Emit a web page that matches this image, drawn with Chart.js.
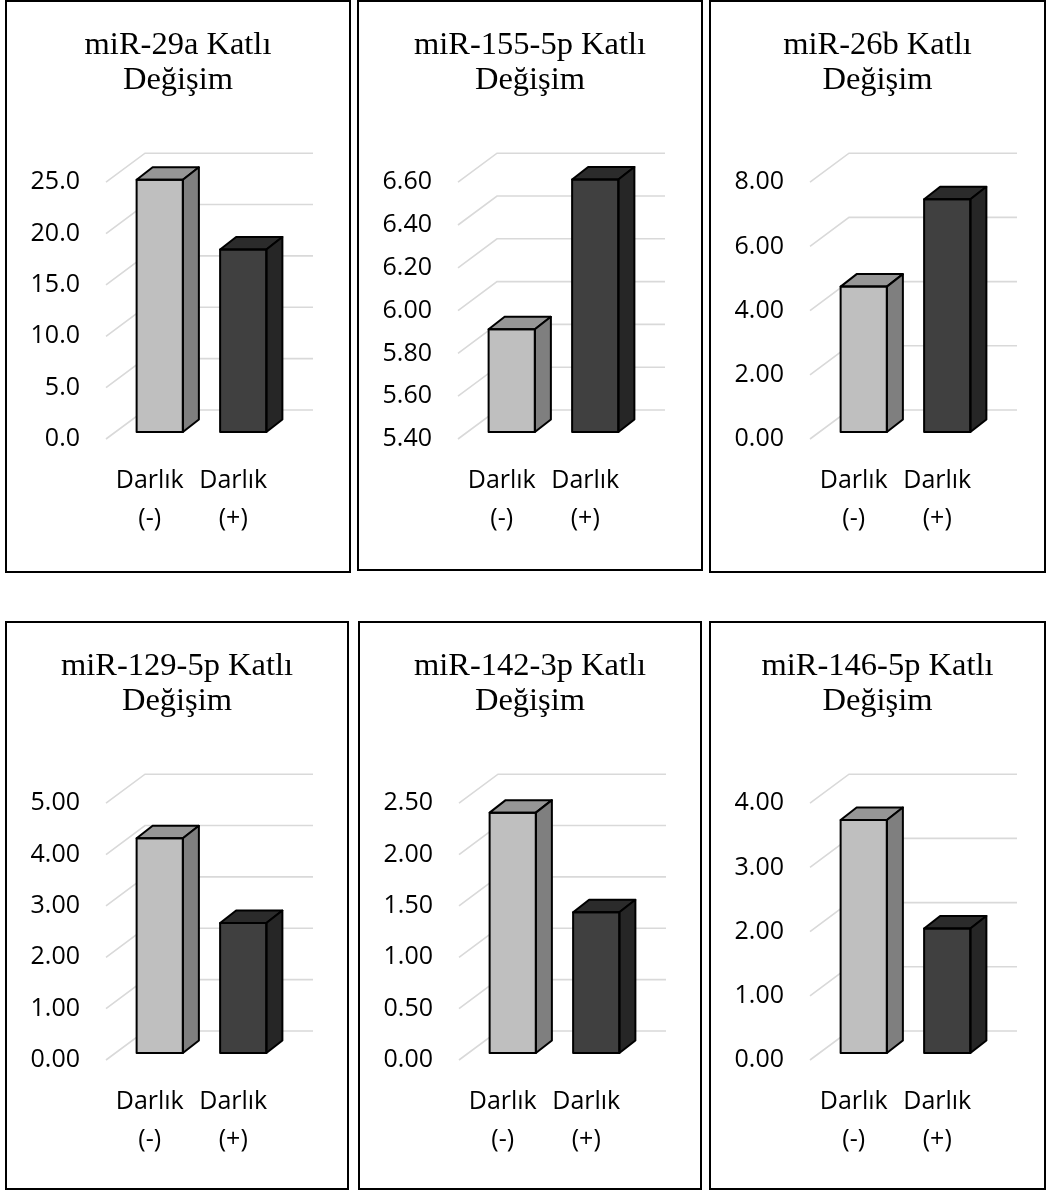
<!DOCTYPE html>
<html>
<head>
<meta charset="utf-8">
<script src="https://cdn.jsdelivr.net/npm/chart.js@4.4.1/dist/chart.umd.min.js"></script>
<style>
  body { margin: 0; background: #fff; }
  .panel { position: absolute; border: 2px solid #000; box-sizing: border-box; background: #fff; }
  .panel > div { position: relative; width: 100%; height: 100%; }
</style>
</head>
<body>
<div id="wrap"></div>
<script>
// data
const categories = [['Darlık', '(-)'], ['Darlık', '(+)']];
const mirNames = ['miR-29a', 'miR-155-5p', 'miR-26b', 'miR-129-5p', 'miR-142-3p', 'miR-146-5p'];
const mir29a = [24.55, 17.77];
const mir155 = [5.88, 6.58];
const mir26b = [4.53, 7.25];
const mir129 = [4.18, 2.53];
const mir142 = [2.34, 1.37];
const mir146 = [3.63, 1.94];
const yMins = [0, 5.4, 0, 0, 0, 0];
const yMaxs = [25, 6.6, 8, 5, 2.5, 4];
const ySteps = [5, 0.2, 2, 1, 0.5, 1];
const yDecimals = [1, 2, 2, 2, 2, 2];
const allValues = [mir29a, mir155, mir26b, mir129, mir142, mir146];

// panel boxes on the page
const boxes = [
  { l: 5, t: 0, w: 346, h: 573 },
  { l: 357, t: 0, w: 346, h: 571 },
  { l: 709, t: 0, w: 337, h: 573 },
  { l: 5, t: 621, w: 344, h: 569 },
  { l: 358, t: 621, w: 344, h: 569 },
  { l: 709, t: 621, w: 337, h: 569 }
];

const frontColors = ['#bfbfbf', '#404040'];
const topColors = ['#969696', '#2b2b2b'];
const sideColors = ['#7f7f7f', '#262626'];

// chart area inside each canvas
const AREA = { left: 111, right: 278, top: 173, bottom: 430 };

// oblique gridlines (front -> back wall)
const wallGrid = {
  id: 'wallGrid',
  beforeDatasetsDraw(chart) {
    const ctx = chart.ctx;
    const y = chart.scales.y;
    const { left, right } = chart.chartArea;
    ctx.save();
    ctx.strokeStyle = '#d9d9d9';
    ctx.lineWidth = 1.6;
    y.ticks.forEach(t => {
      const py = y.getPixelForValue(t.value);
      ctx.beginPath();
      ctx.moveTo(left - 12, py + 7);
      ctx.lineTo(left + 27, py - 22);
      ctx.lineTo(right + 28, py - 22);
      ctx.stroke();
    });
    ctx.restore();
  }
};

// top and side faces of the columns
const bars3d = {
  id: 'bars3d',
  afterDatasetsDraw(chart) {
    const ctx = chart.ctx;
    const meta = chart.getDatasetMeta(0);
    const dx = 16, dy = -12.5;
    ctx.save();
    ctx.lineWidth = 2;
    ctx.strokeStyle = '#000';
    ctx.lineJoin = 'round';
    meta.data.forEach((bar, i) => {
      const p = bar.getProps(['x', 'y', 'base', 'width'], true);
      const l = p.x - p.width / 2, r = p.x + p.width / 2;
      ctx.fillStyle = topColors[i];
      ctx.beginPath();
      ctx.moveTo(l, p.y);
      ctx.lineTo(r, p.y);
      ctx.lineTo(r + dx, p.y + dy);
      ctx.lineTo(l + dx, p.y + dy);
      ctx.closePath();
      ctx.fill();
      ctx.stroke();
      ctx.fillStyle = sideColors[i];
      ctx.beginPath();
      ctx.moveTo(r, p.y);
      ctx.lineTo(r + dx, p.y + dy);
      ctx.lineTo(r + dx, p.base + dy);
      ctx.lineTo(r, p.base);
      ctx.closePath();
      ctx.fill();
      ctx.stroke();
      ctx.strokeRect(l, p.y, p.width, p.base - p.y);
    });
    ctx.restore();
  }
};

Chart.defaults.font.family = 'Open Sans';
Chart.defaults.color = '#000';

const wrap = document.getElementById('wrap');
boxes.forEach((b, k) => {
  const panel = document.createElement('div');
  panel.className = 'panel';
  panel.style.left = b.l + 'px';
  panel.style.top = b.t + 'px';
  panel.style.width = b.w + 'px';
  panel.style.height = b.h + 'px';
  const inner = document.createElement('div');
  const cv = document.createElement('canvas');
  inner.appendChild(cv);
  panel.appendChild(inner);
  wrap.appendChild(panel);

  const cw = b.w - 4, ch = b.h - 4;
  const dec = yDecimals[k];

  new Chart(cv.getContext('2d'), {
    type: 'bar',
    data: {
      labels: categories,
      datasets: [{
        data: allValues[k],
        base: yMins[k],
        backgroundColor: frontColors,
        borderWidth: 0,
        barPercentage: 0.554,
        categoryPercentage: 1
      }]
    },
    options: {
      responsive: true,
      maintainAspectRatio: false,
      animation: false,
      layout: { padding: 0 },
      plugins: {
        legend: { display: false },
        tooltip: { enabled: false },
        title: {
          display: true,
          text: [mirNames[k] + ' Katlı', 'Değişim'],
          color: '#000',
          font: { family: 'Liberation Serif', size: 32.5, weight: 'normal', lineHeight: 1.08 },
          padding: { top: 26, bottom: AREA.top - 26 - 70 }
        }
      },
      scales: {
        x: {
          grid: { display: false, drawTicks: false },
          border: { display: false },
          ticks: { padding: 30, labelOffset: -10, font: { size: 25, lineHeight: 1.52 }, color: '#000' },
          afterFit: s => { s.height = ch - AREA.bottom; }
        },
        y: {
          min: yMins[k],
          max: yMaxs[k],
          grid: { display: false, drawTicks: false },
          border: { display: false },
          ticks: {
            stepSize: ySteps[k],
            padding: 38,
            labelOffset: 7,
            font: { size: 25 },
            color: '#000',
            callback: v => Number(v).toFixed(dec)
          },
          afterFit: s => { s.width = AREA.left; }
        },
        // empty space on the right, keeps the title centred on the panel
        right: {
          type: 'linear',
          position: 'right',
          grid: { display: false, drawTicks: false },
          border: { display: false },
          ticks: { display: false },
          afterFit: s => { s.width = cw - AREA.right; }
        }
      }
    },
    plugins: [wallGrid, bars3d]
  });
});
</script>
</body>
</html>
